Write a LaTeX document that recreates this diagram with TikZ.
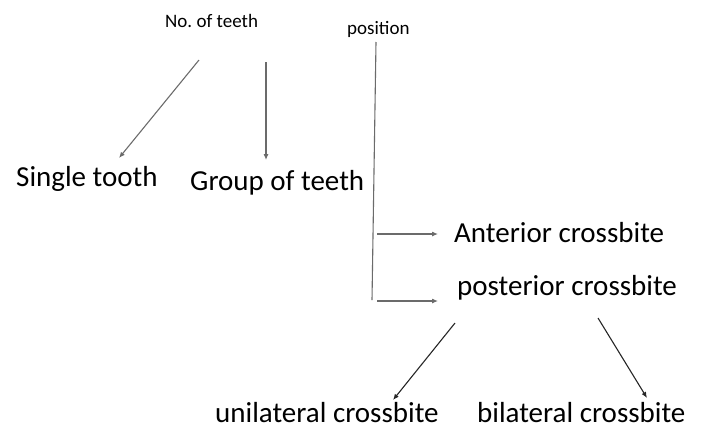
\documentclass[tikz,border=0pt]{standalone}
\usepackage{fontspec}
\setmainfont{Carlito}
\usetikzlibrary{arrows.meta}
\begin{document}
\frenchspacing
\begin{tikzpicture}[x=1pt,y=-1pt,
  big/.style={anchor=base west,inner sep=0pt,font=\fontsize{29}{34}\selectfont},
  small/.style={anchor=base west,inner sep=0pt,font=\fontsize{19}{22}\selectfont},
  grayarrow/.style={draw=black!58,line width=1.1pt,-{Latex[length=6pt,width=5pt]}},
  darkarrow/.style={draw=black!85,line width=1.1pt,-{Latex[length=6pt,width=5pt]}},
  grayline/.style={draw=black!58,line width=1.1pt}]
\useasboundingbox (0,0) rectangle (711,437);
\node[small] (teeth) at (165,27) {No.\ of teeth};
\node[small] (pos) at (347,34) {position};
\node[big] (single) at (16,186) {Single tooth};
\node[big] (group) at (190,190) {Group of teeth};
\node[big] (ant) at (454,242) {Anterior crossbite};
\node[big] (post) at (457,295) {posterior crossbite};
\node[big] (uni) at (215,422) {unilateral crossbite};
\node[big] (bi) at (477,422) {bilateral crossbite};
% connector ends
\coordinate (t1) at (199,60);
\coordinate (s1) at (119,158);
\coordinate (t2) at (266,62);
\coordinate (g1) at (266,160);
\coordinate (p1) at (376,42);
\coordinate (p2) at (372,300);
\coordinate (a0) at (377,234);
\coordinate (a1) at (438,234);
\coordinate (b0) at (377,301);
\coordinate (b1) at (438,301);
\coordinate (u0) at (455,323);
\coordinate (u1) at (393,400);
\coordinate (v0) at (598,318);
\coordinate (v1) at (647,398);
\draw[grayarrow] (t1) -- (s1);
\draw[grayarrow] (t2) -- (g1);
\draw[grayline] (p1) -- (p2);
\draw[grayarrow] (a0) -- (a1);
\draw[grayarrow] (b0) -- (b1);
\draw[darkarrow] (u0) -- (u1);
\draw[darkarrow] (v0) -- (v1);
\end{tikzpicture}
\end{document}
